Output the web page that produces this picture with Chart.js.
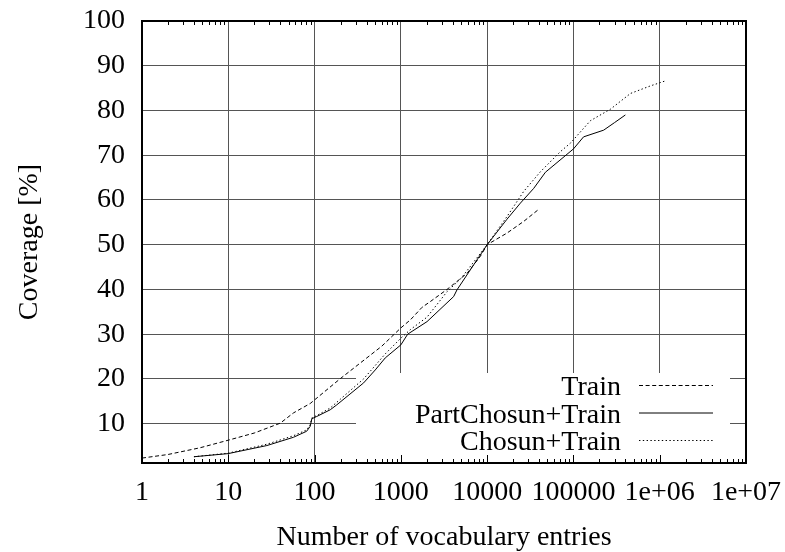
<!DOCTYPE html>
<html lang="en">
<head>
    <meta charset="UTF-8">
    <title>Coverage vs vocabulary size</title>
    <script src="https://cdn.jsdelivr.net/npm/chart.js"></script>
    <style>
        body { margin: 0; background: #fff; }
        #wrap { width: 785px; height: 552px; }
    </style>
</head>
<body>
    <div id="wrap"><canvas id="coverageChart" width="785" height="552"></canvas></div>
    <script>
        // tick labels
        const xTicks = [1, 10, 100, 1000, 10000, 100000, 1000000, 10000000];
        const yTicks = [10, 20, 30, 40, 50, 60, 70, 80, 90, 100];

        // Train
        const trainX = [1, 2, 4.7, 10, 20, 40, 57, 89, 200, 600, 1000, 1290, 1760, 2200, 3430, 5850, 8340, 10000, 17000, 26500, 39600];
        const trainY = [2.3, 3.1, 4.6, 6.3, 7.9, 10.1, 12.4, 14.5, 20.1, 27.3, 31.4, 33.2, 36.0, 37.3, 40.0, 43.6, 47.4, 50.0, 52.6, 55.2, 57.9];

        // PartChosun+Train
        const partX = [4, 10, 28, 57, 81, 89, 93, 106, 152, 181, 370, 505, 660, 1000, 1200, 2010, 4090, 4470, 10000, 17000, 24300, 34700, 47400, 100000, 131000, 224000, 300000, 400000];
        const partY = [2.6, 3.3, 5.1, 6.95, 8.3, 9.4, 11.1, 11.6, 13.1, 14.2, 19.1, 22.0, 24.7, 27.6, 30.0, 32.8, 38.4, 39.9, 50.0, 55.7, 59.3, 62.6, 66.2, 71.4, 74.1, 75.6, 77.3, 79.0];

        // Chosun+Train
        const chosunX = [4, 10, 28, 57, 81, 89, 93, 106, 152, 200, 370, 505, 660, 1000, 1285, 2010, 3430, 5000, 10000, 17000, 26500, 41400, 70600, 92300, 157000, 269000, 458000, 782000, 1200000];
        const chosunY = [2.6, 3.4, 5.4, 7.3, 8.6, 9.8, 11.3, 11.8, 13.5, 15.5, 20.0, 23.0, 25.6, 29.1, 31.0, 33.8, 39.5, 42.5, 50.0, 56.3, 61.9, 66.3, 70.8, 72.7, 77.7, 80.3, 83.8, 85.5, 86.7];

        const labels = ['Train', 'PartChosun+Train', 'Chosun+Train'];
        const dashes = [[4, 2.6], [], [1.4, 2.4]];

        const toPoints = (xs, ys) => xs.map((x, i) => ({ x: x, y: ys[i] }));
        const serif = 'Liberation Serif, Times New Roman, serif';

        // white key box over the grid, then frame, inner tics and key entries
        const gnuplotFrame = {
            id: 'gnuplotFrame',
            beforeDatasetsDraw(chart) {
                const ctx = chart.ctx;
                const a = chart.chartArea;
                ctx.save();
                ctx.fillStyle = '#fff';
                ctx.fillRect(356, 373, 730 - 356, a.bottom - 373 - 1);
                ctx.restore();
            },
            afterDatasetsDraw(chart) {
                const ctx = chart.ctx;
                const a = chart.chartArea;
                const xs = chart.scales.x;
                ctx.save();
                ctx.strokeStyle = '#000';
                ctx.lineWidth = 1;
                ctx.beginPath();
                for (let d = 1; d < 1e7; d *= 10) {
                    for (let k = 2; k <= 9; k++) {
                        const px = Math.round(xs.getPixelForValue(k * d)) + 0.5;
                        ctx.moveTo(px, a.bottom); ctx.lineTo(px, a.bottom - 4);
                        ctx.moveTo(px, a.top); ctx.lineTo(px, a.top + 4);
                    }
                }
                xTicks.forEach(v => {
                    const px = Math.round(xs.getPixelForValue(v)) + 0.5;
                    ctx.moveTo(px, a.bottom); ctx.lineTo(px, a.bottom - 8);
                });
                ctx.stroke();

                ctx.lineWidth = 2;
                ctx.strokeRect(a.left, a.top, a.right - a.left, a.bottom - a.top);

                ctx.font = '28px ' + serif;
                ctx.fillStyle = '#000';
                ctx.textAlign = 'right';
                ctx.textBaseline = 'middle';
                const rows = [388, 415.5, 443];
                labels.forEach((t, i) => {
                    ctx.fillText(t, 621, rows[i]);
                    ctx.lineWidth = 1;
                    ctx.setLineDash(dashes[i]);
                    ctx.beginPath();
                    ctx.moveTo(639, rows[i] - 2.5);
                    ctx.lineTo(713, rows[i] - 2.5);
                    ctx.stroke();
                });
                ctx.restore();
            }
        };

        const ctx = document.getElementById('coverageChart').getContext('2d');
        const coverageChart = new Chart(ctx, {
            type: 'line',
            data: {
                datasets: [
                    { label: labels[0], data: toPoints(trainX, trainY), borderDash: dashes[0] },
                    { label: labels[1], data: toPoints(partX, partY), borderDash: dashes[1] },
                    { label: labels[2], data: toPoints(chosunX, chosunY), borderDash: dashes[2] }
                ].map(ds => Object.assign(ds, {
                    borderColor: '#000',
                    borderWidth: 1,
                    pointRadius: 0,
                    tension: 0,
                    fill: false
                }))
            },
            options: {
                responsive: false,
                devicePixelRatio: 1,
                animation: false,
                layout: { padding: { left: 0, top: 21, right: 39, bottom: 0 } },
                plugins: {
                    legend: { display: false },
                    tooltip: { enabled: false }
                },
                scales: {
                    x: {
                        type: 'logarithmic',
                        min: 1,
                        max: 1e7,
                        afterBuildTicks: s => { s.ticks = xTicks.map(v => ({ value: v })); },
                        afterFit: s => { s.height = 89; s.paddingLeft = 0; s.paddingRight = 0; },
                        grid: { color: '#555', lineWidth: 1, drawTicks: false },
                        border: { display: false },
                        ticks: {
                            autoSkip: false,
                            maxRotation: 0,
                            padding: 13,
                            color: '#000',
                            font: { family: serif, size: 28 },
                            callback: v => v >= 1e6 ? '1e+0' + Math.round(Math.log10(v)) : String(v)
                        },
                        title: {
                            display: true,
                            text: 'Number of vocabulary entries',
                            color: '#000',
                            font: { family: serif, size: 28, lineHeight: 1 },
                            padding: { top: 0, bottom: 0 }
                        }
                    },
                    y: {
                        min: 1.2,
                        max: 100,
                        afterBuildTicks: s => { s.ticks = yTicks.map(v => ({ value: v })); },
                        afterFit: s => { s.width = 142; s.paddingTop = 0; s.paddingBottom = 0; },
                        grid: { color: '#555', lineWidth: 1, drawTicks: false },
                        border: { display: false },
                        ticks: {
                            padding: 17,
                            color: '#000',
                            font: { family: serif, size: 28 }
                        },
                        title: {
                            display: true,
                            text: 'Coverage [%]',
                            color: '#000',
                            font: { family: serif, size: 28, lineHeight: 1.2 },
                            padding: { top: 13, bottom: 0 }
                        }
                    }
                }
            },
            plugins: [gnuplotFrame]
        });
    </script>
</body>
</html>
